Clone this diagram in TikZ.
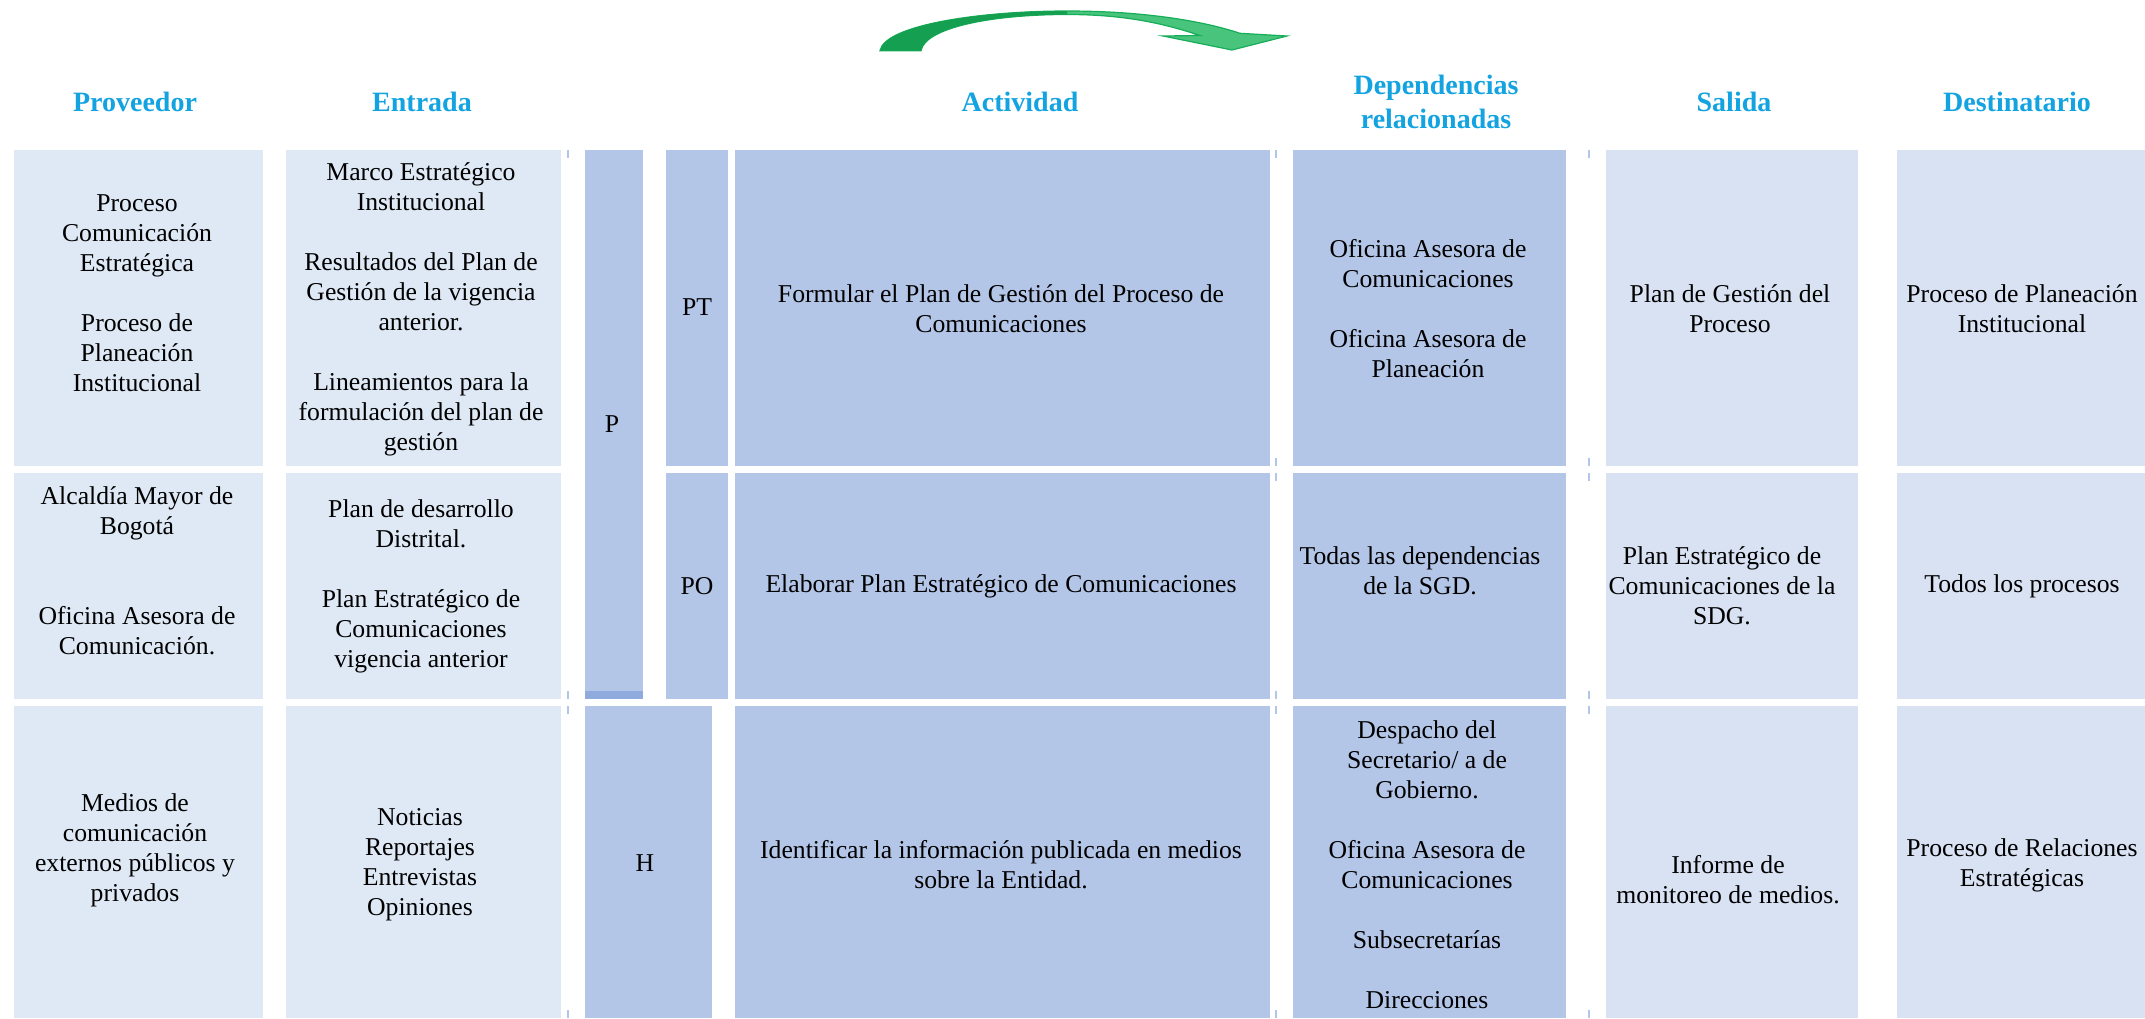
\documentclass[tikz,border=0pt]{standalone}
\usepackage{fontspec}
\setmainfont{Liberation Serif}
\definecolor{lightA}{HTML}{DEE9F5}
\definecolor{darkB}{HTML}{B4C6E7}
\definecolor{stripB}{HTML}{8FAADC}
\definecolor{lightC}{HTML}{D9E2F3}
\definecolor{hdr}{HTML}{12A3E0}
\definecolor{arrdark}{HTML}{14A050}
\definecolor{arrlight}{HTML}{48C47D}
\definecolor{arrline}{HTML}{16AE58}
\begin{document}
\begin{tikzpicture}[x=1pt,y=-1pt,
  txt/.style={align=center, font=\fontsize{25.7pt}{30pt}\selectfont, inner sep=0pt, text=black},
  hd/.style={anchor=base, font=\fontsize{28pt}{34pt}\selectfont\bfseries, text=hdr, inner sep=0pt},
  tk/.style={draw=darkB, line width=1.2pt}]
\useasboundingbox (0,0) rectangle (2145,1018);

% ---- top arrow ----
\def\arrowpath{(880,50.7) .. controls (885,25) and (980,11) .. (1067,11)
  .. controls (1140,11) and (1200,20) .. (1240,33.3)
  -- (1287,36) -- (1232,50) -- (1163,36) -- (1200,35.5)
  .. controls (1160,22) and (1120,14.5) .. (1067,14.5)
  .. controls (990,14.5) and (925,28) .. (921,50.7) -- cycle}
\fill[arrlight, draw=arrline, line width=1.2pt] \arrowpath;
\begin{scope}
  \clip (860,0) rectangle (1067,60);
  \fill[arrdark] \arrowpath;
\end{scope}

% ---- headers ----
\node[hd] (hprov) at (135,111) {Proveedor};
\node[hd] (hentr) at (422,111) {Entrada};
\node[hd] (hact) at (1020,111) {Actividad};
\node[hd] (hdep1) at (1436,94) {Dependencias};
\node[hd] (hdep2) at (1436,128) {relacionadas};
\node[hd] (hsal) at (1734,111) {Salida};
\node[hd] (hdest) at (2017,111) {Destinatario};

% ---- boxes row 1 ----
\fill[lightA] (14,150) rectangle (263,466);
\fill[lightA] (286,150) rectangle (561,466);
\fill[darkB] (666,150) rectangle (728,466);
\fill[darkB] (735,150) rectangle (1270,466);
\fill[darkB] (1293,150) rectangle (1566,466);
\fill[lightC] (1606,150) rectangle (1858,466);
\fill[lightC] (1897,150) rectangle (2145,466);
% ---- boxes row 2 ----
\fill[lightA] (14,473) rectangle (263,699);
\fill[lightA] (286,473) rectangle (561,699);
\fill[darkB] (666,473) rectangle (728,699);
\fill[darkB] (735,473) rectangle (1270,699);
\fill[darkB] (1293,473) rectangle (1566,699);
\fill[lightC] (1606,473) rectangle (1858,699);
\fill[lightC] (1897,473) rectangle (2145,699);
% ---- P column ----
\fill[darkB] (585,150) rectangle (643,699);
\fill[stripB] (585,691) rectangle (643,699);
% ---- boxes row 3 ----
\fill[lightA] (14,706) rectangle (263,1018);
\fill[lightA] (286,706) rectangle (561,1018);
\fill[darkB] (585,706) rectangle (712,1018);
\fill[darkB] (735,706) rectangle (1270,1018);
\fill[darkB] (1293,706) rectangle (1566,1018);
\fill[lightC] (1606,706) rectangle (1858,1018);
\fill[lightC] (1897,706) rectangle (2145,1018);

% ---- small border ticks ----
\foreach \a/\b in {150/158,691/699,706/714,1010/1018}
  \draw[tk] (568,\a) -- (568,\b);
\foreach \xx in {1276,1589}
  \foreach \a/\b in {150/158,458/466,473/481,691/699,706/714,1010/1018}
    \draw[tk] (\xx,\a) -- (\xx,\b);

% ---- row 1 texts ----
\node[txt] (prov1) at (137,293) {Proceso\\Comunicación\\Estratégica\\[30pt]Proceso de\\Planeación\\Institucional};
\node[txt] (entr1) at (421,309) {Marco Estratégico\\Institucional\\[30pt]Resultados del Plan de\\Gestión de la vigencia\\anterior.\\[30pt]Lineamientos para la\\formulación del plan de\\gestión};
\node[txt] (pP) at (612,424) {P};
\node[txt] (pPT) at (697,307) {PT};
\node[txt] (act1) at (1001,309) {Formular el Plan de Gestión del Proceso de\\Comunicaciones};
\node[txt] (dep1) at (1428,309) {Oficina Asesora de\\Comunicaciones\\[30pt]Oficina Asesora de\\Planeación};
\node[txt] (sal1) at (1730,309) {Plan de Gestión del\\Proceso};
\node[txt] (dest1) at (2022,309) {Proceso de Planeación\\Institucional};

% ---- row 2 texts ----
\node[txt] (prov2) at (137,571) {Alcaldía Mayor de\\Bogotá\\[60pt]Oficina Asesora de\\Comunicación.};
\node[txt] (entr2) at (421,586) {Plan de desarrollo\\Distrital.\\[30pt]Plan Estratégico de\\Comunicaciones\\vigencia anterior};
\node[txt] (pPO) at (697,586) {PO};
\node[txt] (act2) at (1001,586) {Elaborar Plan Estratégico de Comunicaciones};
\node[txt] (dep2) at (1420,571) {Todas las dependencias\\de la SGD.};
\node[txt] (sal2) at (1722,586) {Plan Estratégico de\\Comunicaciones de la\\SDG.};
\node[txt] (dest2) at (2022,586) {Todos los procesos};

% ---- row 3 texts ----
\node[txt] (prov3) at (135,850) {Medios de\\comunicación\\externos públicos y\\privados};
\node[txt] (entr3) at (420,865) {Noticias\\Reportajes\\Entrevistas\\Opiniones};
\node[txt] (pH) at (645,863) {H};
\node[txt] (act3) at (1001,865) {Identificar la información publicada en medios\\sobre la Entidad.};
\node[txt] (dep3) at (1427,865) {Despacho del\\Secretario/ a de\\Gobierno.\\[30pt]Oficina Asesora de\\Comunicaciones\\[30pt]Subsecretarías\\[30pt]Direcciones};
\node[txt] (sal3) at (1728,880) {Informe de\\monitoreo de medios.};
\node[txt] (dest3) at (2022,865) {Proceso de Relaciones\\Estratégicas};
\end{tikzpicture}
\end{document}
